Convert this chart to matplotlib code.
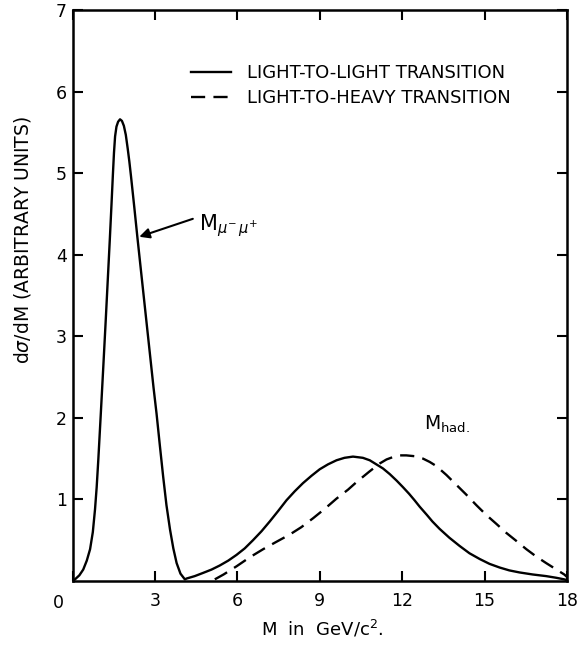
import matplotlib
matplotlib.use("Agg")
import matplotlib.pyplot as plt

# ---- data ----
light_light_x = [0.0, 0.09, 0.25, 0.39, 0.52, 0.64, 0.74, 0.82, 0.88, 0.94, 1.03, 1.12, 1.21,
                 1.30, 1.36, 1.42, 1.47, 1.51, 1.55, 1.60, 1.66, 1.73, 1.80, 1.87, 1.94,
                 2.01, 2.07, 2.13, 2.25, 2.36, 2.50, 2.65, 2.80, 2.95, 3.06, 3.18, 3.30,
                 3.42, 3.55, 3.67, 3.79, 3.93, 4.09,
                 4.15, 4.45, 4.76, 5.06, 5.36, 5.67, 5.97, 6.27, 6.57, 6.88, 7.18, 7.49,
                 7.79, 8.09, 8.39, 8.70, 9.00, 9.30, 9.61, 9.90, 10.21, 10.57, 10.82,
                 11.06, 11.30, 11.55, 11.80, 12.03, 12.25, 12.45, 12.64, 12.90, 13.10,
                 13.36, 13.72, 14.09, 14.45, 14.82, 15.18, 15.55, 15.90, 16.27, 16.75,
                 17.24, 17.60, 17.90, 18.0]
light_light_y = [0.0, 0.02, 0.07, 0.14, 0.25, 0.39, 0.60, 0.88, 1.15, 1.49, 2.05, 2.62, 3.20,
                 3.80, 4.20, 4.62, 4.98, 5.25, 5.45, 5.57, 5.63, 5.66, 5.64, 5.58, 5.47,
                 5.30, 5.14, 4.96, 4.58, 4.22, 3.78, 3.31, 2.84, 2.37, 2.05, 1.66, 1.28,
                 0.93, 0.63, 0.40, 0.22, 0.09, 0.02,
                 0.03, 0.06, 0.10, 0.14, 0.19, 0.25, 0.32, 0.40, 0.50, 0.61, 0.73, 0.86,
                 0.99, 1.10, 1.20, 1.29, 1.37, 1.43, 1.48, 1.51, 1.525, 1.51, 1.48,
                 1.43, 1.38, 1.31, 1.23, 1.15, 1.07, 0.99, 0.91, 0.81, 0.73,
                 0.64, 0.53, 0.43, 0.34, 0.27, 0.21, 0.165, 0.13, 0.105, 0.08,
                 0.06, 0.04, 0.02, 0.01]

light_heavy_x = [5.18, 5.50, 5.97, 6.45, 6.94, 7.42, 7.91, 8.33, 8.76, 9.20, 9.61, 10.03,
                 10.33, 10.80, 11.18, 11.43, 11.67, 11.91, 12.15, 12.45, 12.76, 13.00,
                 13.24, 13.61, 13.97, 14.33, 14.70, 15.06, 15.43, 15.79, 16.16, 16.52,
                 16.88, 17.24, 17.57, 17.90, 18.0]
light_heavy_y = [0.02, 0.08, 0.18, 0.29, 0.39, 0.48, 0.57, 0.66, 0.77, 0.89, 1.01, 1.12,
                 1.21, 1.34, 1.44, 1.49, 1.52, 1.54, 1.54, 1.53, 1.50, 1.46,
                 1.41, 1.30, 1.18, 1.06, 0.93, 0.81, 0.70, 0.59, 0.49, 0.39,
                 0.30, 0.22, 0.15, 0.08, 0.05]

x_ticks = [0, 3, 6, 9, 12, 15, 18]
x_tick_labels = ["0", "3", "6", "9", "12", "15", "18"]
y_ticks = [1, 2, 3, 4, 5, 6, 7]
y_tick_labels = ["1", "2", "3", "4", "5", "6", "7"]

series_labels = ["LIGHT-TO-LIGHT TRANSITION", "LIGHT-TO-HEAVY TRANSITION"]
x_label = r"M  in  GeV/c$^{2}$."
y_label = r"d$\sigma$/dM (ARBITRARY UNITS)"
mumu_label = r"M$_{\mu^{-}\,\mu^{+}}$"
had_label = r"M$_{\mathrm{had.}}$"

# ---- figure ----
plt.rcParams["font.family"] = ["DejaVu Sans"]
plt.rcParams["mathtext.fontset"] = "dejavusans"
fig = plt.figure(figsize=(5.8, 6.5), dpi=100)
ax = fig.add_axes([72.5 / 580, 69 / 650, (567 - 72.5) / 580, (581 - 10) / 650])

ax.plot(light_light_x, light_light_y, color="black", lw=1.7, solid_joinstyle="round",
        label=series_labels[0])
ax.plot(light_heavy_x, light_heavy_y, color="black", lw=1.7, dashes=(6, 3.5),
        label=series_labels[1])

ax.set_xlim(0, 18)
ax.set_ylim(0, 7)
ax.set_xticks(x_ticks)
ax.set_xticklabels([""] + x_tick_labels[1:])
ax.set_yticks(y_ticks)
ax.set_yticklabels(y_tick_labels)
ax.tick_params(direction="in", length=7, width=1.5, top=True, right=True,
               labelsize=12.5)
ax.tick_params(axis="x", pad=8)
ax.tick_params(axis="y", pad=4)
for s in ax.spines.values():
    s.set_linewidth(1.8)

# origin label placed at the corner, left of the axis as in the reference
ax.annotate(x_tick_labels[0], xy=(x_ticks[0], 0), xycoords="data",
            xytext=(-14, -13), textcoords="offset pixels",
            ha="center", va="top", fontsize=12.5)

fig.text(23 / 580, 1 - 240 / 650, y_label, rotation=90, ha="center", va="center",
         fontsize=13.5)
fig.text(322 / 580, 1 - 629 / 650, x_label, ha="center", va="center", fontsize=13)

leg = ax.legend(loc="upper left", bbox_to_anchor=(0.24, 0.905), frameon=False,
                handlelength=2.2, handletextpad=0.9, borderpad=0, borderaxespad=0,
                labelspacing=0.4, fontsize=13)

ax.annotate("", xy=(2.43, 4.22), xytext=(4.38, 4.44),
            arrowprops=dict(arrowstyle="-|>", color="black", lw=1.5,
                            mutation_scale=15, shrinkA=0, shrinkB=0))
ax.text(4.62, 4.30, mumu_label, fontsize=15, ha="left", va="baseline")
ax.text(12.8, 1.86, had_label, fontsize=13.5, ha="left", va="baseline")

fig.savefig("out.png", dpi=100)
